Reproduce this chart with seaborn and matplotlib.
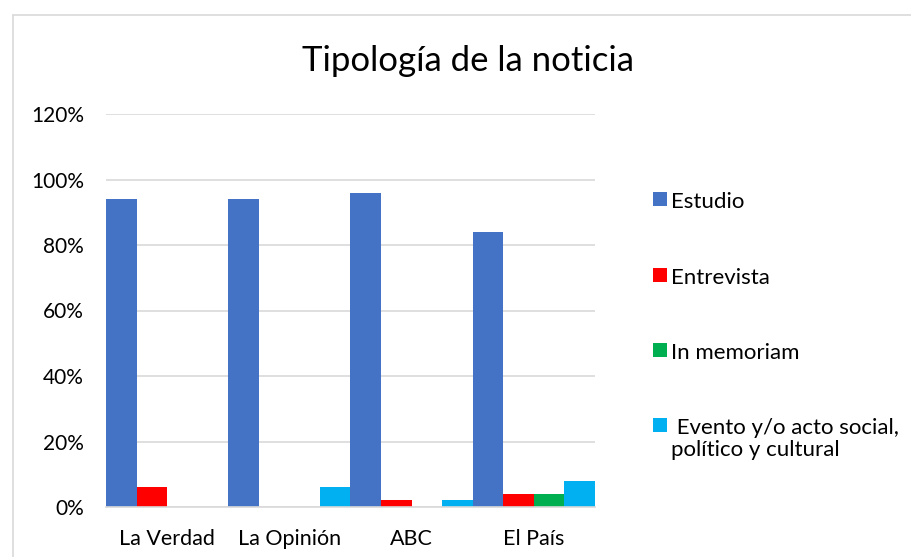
import matplotlib
matplotlib.use("Agg")
import matplotlib.pyplot as plt
from matplotlib.patches import Rectangle
from matplotlib.ticker import FuncFormatter
import seaborn as sns
import pandas as pd

categories = ["La Verdad", "La Opinión", "ABC", "El País"]
series_names = ["Estudio", "Entrevista", "In memoriam",
                " Evento y/o acto social,\npolítico y cultural"]
estudio = [94, 94, 96, 84]
entrevista = [6, 0, 2, 4]
in_memoriam = [0, 0, 0, 4]
evento = [0, 6, 2, 8]
colors = ["#4472C4", "#FF0000", "#00B050", "#00B0F0"]
y_ticks = [0, 20, 40, 60, 80, 100, 120]

rows = []
for name, vals in zip(series_names, [estudio, entrevista, in_memoriam, evento]):
    for c, v in zip(categories, vals):
        rows.append({"Periódico": c, "Tipo": name, "Valor": v})
df = pd.DataFrame(rows)

sns.set_theme(style="white")
plt.rcParams["font.family"] = ["Lato", "DejaVu Sans"]

W, H = 912, 557
fig = plt.figure(figsize=(W / 100, H / 100), dpi=100)
ax = fig.add_axes([106 / W, 1 - 507 / H, (595 - 106) / W, (507 - 114) / H])

sns.barplot(data=df, x="Periódico", y="Valor", hue="Tipo", order=categories,
            hue_order=series_names, palette=colors, width=1.0, saturation=1,
            linewidth=0, ax=ax, legend=False)

ax.set_ylim(0, 120)
ax.set_xlim(-0.5, len(categories) - 0.5)
ax.set_yticks(y_ticks)
ax.yaxis.set_major_formatter(FuncFormatter(lambda v, p: f"{int(v)}%"))
ax.grid(axis="y", color="#D9D9D9", linewidth=1.2)
ax.set_axisbelow(True)
for s in ["left", "right", "top"]:
    ax.spines[s].set_visible(False)
ax.spines["bottom"].set_color("#D9D9D9")
ax.spines["bottom"].set_linewidth(1.2)
ax.tick_params(axis="both", length=0, colors="#000000")
ax.tick_params(axis="y", pad=16, labelsize=15)
ax.tick_params(axis="x", pad=16, labelsize=15.5)
ax.set_xlabel("")
ax.set_ylabel("")

fig.text(468 / W, 1 - 61 / H, "Tipología de la noticia", ha="center", va="center",
         fontsize=25, color="#000000")

# chart border
fig.add_artist(plt.Line2D([13 / W, 13 / W], [0, 1 - 15 / H], transform=fig.transFigure,
                          color="#D9D9D9", linewidth=1.2))
fig.add_artist(plt.Line2D([13 / W, 1], [1 - 15 / H, 1 - 15 / H], transform=fig.transFigure,
                          color="#D9D9D9", linewidth=1.2))

# legend
leg_y = [199, 275, 350, 425]
for name, col, yy in zip(series_names, colors, leg_y):
    fig.add_artist(Rectangle((653 / W, 1 - (yy + 7) / H), 14 / W, 14 / H,
                             transform=fig.transFigure, facecolor=col, edgecolor="none"))
    fig.text(671 / W, 1 - (yy - 7) / H, name, ha="left", va="top", fontsize=16,
             color="#000000", linespacing=1.15)

fig.savefig("out.png", dpi=100)
